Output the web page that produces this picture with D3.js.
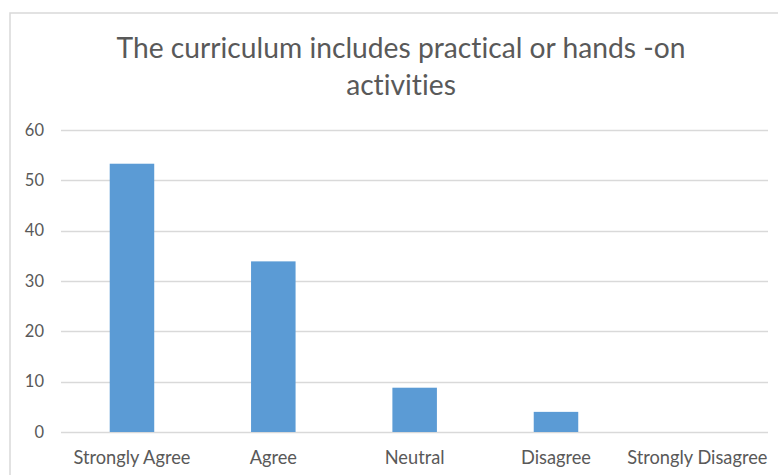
<!DOCTYPE html>
<html><head><meta charset="utf-8">
<script src="https://cdn.jsdelivr.net/npm/d3@7"></script>
<style>html,body{margin:0;padding:0;background:#fff;overflow:hidden} text{font-variant-ligatures:none;font-feature-settings:"liga" 0,"clig" 0;}</style>
</head><body>
<svg id="chart" width="778" height="475"></svg>
<script>
const categories = ["Strongly Agree", "Agree", "Neutral", "Disagree", "Strongly Disagree"];
const values = [53.3, 33.9, 8.8, 4.0, 0];
const yTicks = [0, 10, 20, 30, 40, 50, 60];
const titleLines = ["The curriculum includes practical or hands -on", "activities"];

const svg = d3.select("#chart");
const font = "Lato, 'Open Sans', sans-serif";

// chart border
svg.append("rect").attr("x", 10).attr("y", 13).attr("width", 800).attr("height", 500)
  .attr("fill", "none").attr("stroke", "#d9d9d9").attr("stroke-width", 1.5);

const x = d3.scaleBand().domain(categories).range([61.3, 768]).paddingInner(0.685).paddingOuter(0.3425);
const y = d3.scaleLinear().domain([0, 60]).range([432, 130]);

// gridlines
svg.append("g").selectAll("line").data(yTicks).join("line")
  .attr("x1", 61).attr("x2", 768)
  .attr("y1", d => Math.round(y(d)) + 0.5).attr("y2", d => Math.round(y(d)) + 0.5)
  .attr("stroke", "#d9d9d9").attr("stroke-width", 1.3);

// y tick labels
svg.append("g").selectAll("text").data(yTicks).join("text")
  .attr("x", 44).attr("y", d => y(d)).attr("dy", "0.35em")
  .attr("text-anchor", "end").attr("font-family", font).attr("font-size", 16.5)
  .attr("fill", "#595959").text(d => d);

// bars
svg.append("g").selectAll("rect").data(values).join("rect")
  .attr("x", (d, i) => x(categories[i])).attr("width", x.bandwidth())
  .attr("y", d => y(d)).attr("height", d => y(0) - y(d))
  .attr("fill", "#5b9bd5");

// x labels
const xl = svg.append("g");
xl.selectAll("text").data(categories).join("text")
  .attr("x", d => x(d) + x.bandwidth() / 2).attr("y", 464)
  .attr("text-anchor", "middle").attr("font-family", font).attr("font-size", 16)
  .attr("fill", "#595959").text(d => d);
const xw = xl.select("text").node().getComputedTextLength();
xl.selectAll("text").attr("font-size", 16 * 117 / xw);

// title
const t = svg.append("g");
t.selectAll("text").data(titleLines).join("text")
  .attr("x", 401).attr("y", (d, i) => i === 0 ? 58 : 95)
  .attr("text-anchor", "middle").attr("font-family", font).attr("font-size", 26)
  .attr("fill", "#595959").text(d => d);
const w = t.select("text").node().getComputedTextLength();
t.selectAll("text").attr("font-size", 26 * 569 / w);
</script>
</body></html>
